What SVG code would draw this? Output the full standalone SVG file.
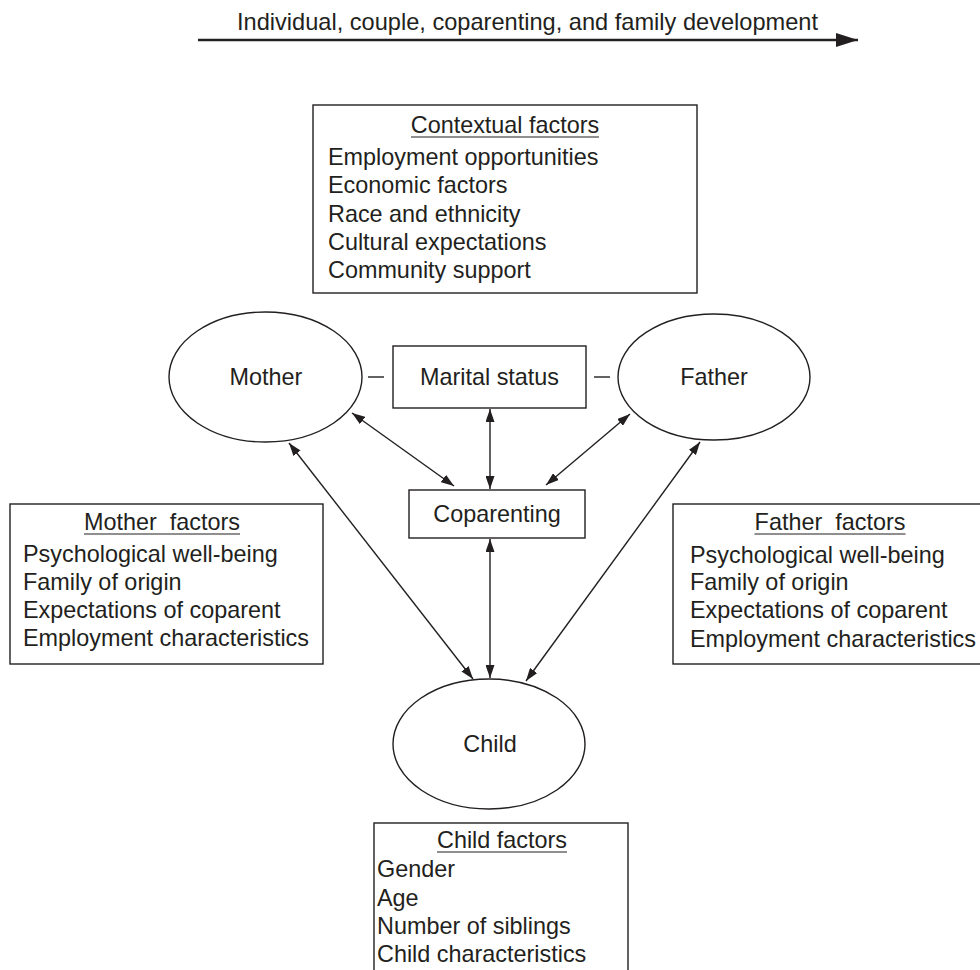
<svg xmlns="http://www.w3.org/2000/svg" width="980" height="970" viewBox="0 0 980 970">
<style>
text{font-family:"Liberation Sans",Arial,Helvetica,sans-serif;font-size:23.4px;fill:#231f20}
.c{text-anchor:middle}
.box{fill:#fff;stroke:#231f20;stroke-width:1.4}
.ell{fill:#fff;stroke:#231f20;stroke-width:1.4}
.ul{stroke:#231f20;stroke-width:1.2}
.con{stroke:#231f20;stroke-width:1.4;fill:none;marker-start:url(#ah);marker-end:url(#ah)}
.dash{stroke:#231f20;stroke-width:1.4}
</style>
<defs>
<marker id="ah" markerUnits="userSpaceOnUse" markerWidth="13" markerHeight="9" refX="13" refY="4.5" orient="auto-start-reverse"><path d="M0,0 L13,4.5 L0,9 z" fill="#231f20"/></marker>
<marker id="big" markerUnits="userSpaceOnUse" markerWidth="22" markerHeight="14" refX="22" refY="7" orient="auto"><path d="M0,0 L22,7 L0,14 z" fill="#231f20"/></marker>
</defs>

<g id="timeline">
<text x="237" y="30" style="font-size:23.6px">Individual, couple, coparenting, and family development</text>
<line x1="198" y1="40" x2="858" y2="40" stroke="#231f20" stroke-width="2.4" marker-end="url(#big)"/>
</g>

<g id="contextual">
<rect class="box" x="313" y="105" width="384" height="188"/>
<text class="c" x="505" y="133">Contextual factors</text>
<line class="ul" x1="411" y1="137" x2="599" y2="137"/>
<text x="328" y="165">Employment opportunities</text>
<text x="328" y="193">Economic factors</text>
<text x="328" y="222">Race and ethnicity</text>
<text x="328" y="250">Cultural expectations</text>
<text x="328" y="278">Community support</text>
</g>

<g id="connectors">
<line class="dash" x1="368" y1="377" x2="384" y2="377"/>
<line class="dash" x1="594" y1="377" x2="610" y2="377"/>
<line class="con" x1="490" y1="409" x2="490" y2="489"/>
<line class="con" x1="490" y1="539" x2="490" y2="678"/>
<line class="con" x1="352" y1="413" x2="454" y2="486"/>
<line class="con" x1="630" y1="414" x2="546" y2="485"/>
<line class="con" x1="289" y1="443" x2="473" y2="679"/>
<line class="con" x1="700" y1="442" x2="526" y2="681"/>
</g>

<g id="mother">
<ellipse class="ell" cx="265.5" cy="377" rx="96.5" ry="65"/>
<text class="c" x="266" y="385">Mother</text>
</g>

<g id="marital">
<rect class="box" x="393" y="346" width="193" height="62"/>
<text class="c" x="489.5" y="385">Marital status</text>
</g>

<g id="father">
<ellipse class="ell" cx="714" cy="377" rx="96" ry="63"/>
<text class="c" x="714" y="385">Father</text>
</g>

<g id="coparenting">
<rect class="box" x="409" y="490" width="176" height="48"/>
<text class="c" x="497" y="522">Coparenting</text>
</g>

<g id="child">
<ellipse class="ell" cx="489" cy="744" rx="96" ry="65"/>
<text class="c" x="490" y="752">Child</text>
</g>

<g id="mother-factors">
<rect class="box" x="10" y="504" width="313" height="160"/>
<text class="c" x="162" y="530" xml:space="preserve">Mother  factors</text>
<line class="ul" x1="84" y1="534" x2="240" y2="534"/>
<text x="23" y="562">Psychological well-being</text>
<text x="23" y="590">Family of origin</text>
<text x="23" y="618">Expectations of coparent</text>
<text x="23" y="646">Employment characteristics</text>
</g>

<g id="father-factors">
<rect class="box" x="673" y="504" width="320" height="160"/>
<text class="c" x="830" y="530" xml:space="preserve">Father  factors</text>
<line class="ul" x1="754.5" y1="534" x2="905.5" y2="534"/>
<text x="690" y="563">Psychological well-being</text>
<text x="690" y="590">Family of origin</text>
<text x="690" y="618">Expectations of coparent</text>
<text x="690" y="647">Employment characteristics</text>
</g>

<g id="child-factors">
<rect class="box" x="374" y="823" width="254" height="160"/>
<text class="c" x="502" y="848">Child factors</text>
<line class="ul" x1="437" y1="852" x2="567" y2="852"/>
<text x="377" y="877">Gender</text>
<text x="377" y="906">Age</text>
<text x="377" y="934">Number of siblings</text>
<text x="377" y="962">Child characteristics</text>
</g>
</svg>
